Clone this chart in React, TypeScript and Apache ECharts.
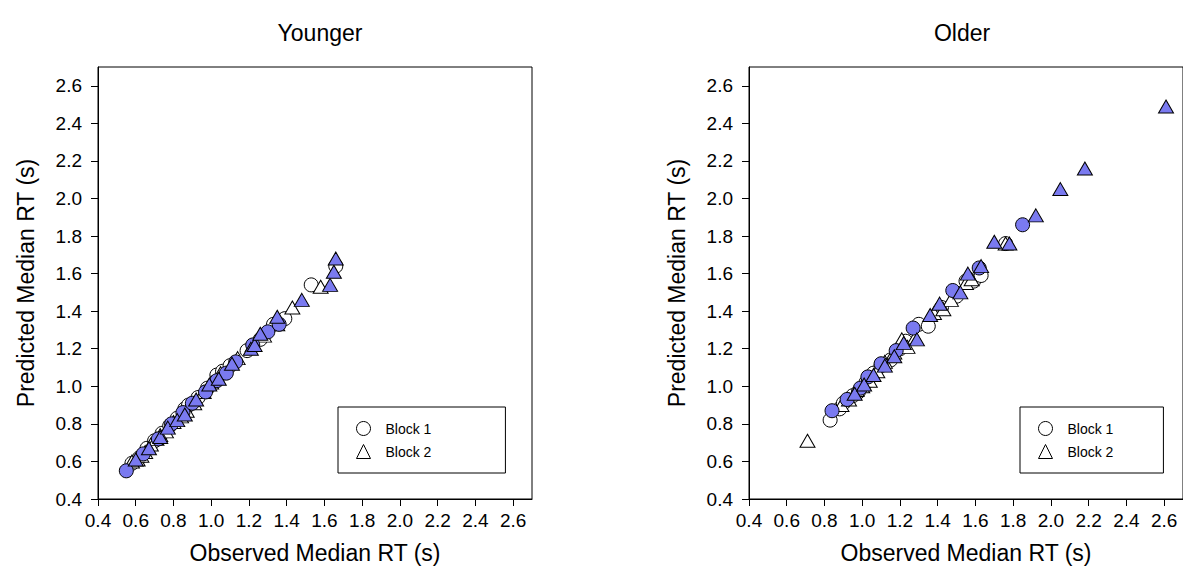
import React, { useEffect, useRef } from "react";
import * as echarts from "echarts";

// Younger group
const youngB1Open: number[][] = [
  [0.58, 0.59], [0.62, 0.62], [0.66, 0.67], [0.70, 0.71], [0.74, 0.75], [0.78, 0.79],
  [0.82, 0.83], [0.86, 0.88], [0.88, 0.90], [0.93, 0.94], [0.98, 0.99], [1.03, 1.06],
  [1.06, 1.08], [1.10, 1.11], [1.19, 1.19], [1.26, 1.25], [1.33, 1.33], [1.39, 1.36],
  [1.53, 1.54], [1.66, 1.64],
];
const youngB2Open: number[][] = [
  [0.58, 0.60], [0.61, 0.61], [0.63, 0.63], [0.65, 0.65], [0.68, 0.69], [0.71, 0.72],
  [0.73, 0.74], [0.76, 0.76], [0.80, 0.81], [0.84, 0.84], [0.87, 0.87], [0.91, 0.91],
  [0.96, 0.97], [1.00, 1.02], [1.05, 1.07], [1.14, 1.15], [1.22, 1.22], [1.28, 1.27],
  [1.35, 1.33], [1.43, 1.42], [1.58, 1.53],
];
const youngB1Fill: number[][] = [
  [0.55, 0.55], [0.64, 0.64], [0.72, 0.72], [0.79, 0.80], [0.85, 0.86], [0.90, 0.91],
  [0.97, 0.97], [1.03, 1.03], [1.08, 1.07], [1.13, 1.13], [1.22, 1.22], [1.30, 1.29],
  [1.36, 1.33],
];
const youngB2Fill: number[][] = [
  [0.60, 0.61], [0.67, 0.67], [0.73, 0.73], [0.77, 0.78], [0.82, 0.82], [0.86, 0.85],
  [0.92, 0.93], [0.99, 1.01], [1.04, 1.04], [1.11, 1.12], [1.21, 1.20], [1.23, 1.22],
  [1.26, 1.28], [1.35, 1.37], [1.48, 1.46], [1.63, 1.54], [1.65, 1.61], [1.66, 1.68],
];

// Older group
const oldB1Open: number[][] = [
  [0.83, 0.82], [0.88, 0.88], [0.90, 0.91], [0.95, 0.95], [0.98, 0.97], [1.02, 1.02],
  [1.06, 1.07], [1.10, 1.11], [1.15, 1.14], [1.20, 1.20], [1.23, 1.24], [1.30, 1.33],
  [1.35, 1.32], [1.42, 1.42], [1.50, 1.48], [1.55, 1.56], [1.59, 1.56], [1.63, 1.59],
  [1.76, 1.76],
];
const oldB2Open: number[][] = [
  [0.71, 0.71], [0.89, 0.90], [0.93, 0.93], [0.97, 0.98], [1.00, 1.00], [1.04, 1.03],
  [1.08, 1.08], [1.12, 1.13], [1.17, 1.18], [1.21, 1.25], [1.24, 1.21], [1.28, 1.26],
  [1.38, 1.39], [1.43, 1.41], [1.47, 1.46], [1.55, 1.55], [1.58, 1.57], [1.76, 1.76],
];
const oldB1Fill: number[][] = [
  [0.84, 0.87], [0.92, 0.93], [0.99, 0.99], [1.03, 1.05], [1.10, 1.12], [1.18, 1.19],
  [1.27, 1.31], [1.48, 1.51], [1.62, 1.63], [1.85, 1.86],
];
const oldB2Fill: number[][] = [
  [0.96, 0.96], [1.01, 1.01], [1.06, 1.06], [1.12, 1.11], [1.17, 1.16], [1.22, 1.23],
  [1.29, 1.25], [1.36, 1.38], [1.41, 1.44], [1.52, 1.50], [1.56, 1.60], [1.63, 1.64],
  [1.70, 1.77], [1.78, 1.76], [1.92, 1.91], [2.05, 2.05], [2.18, 2.16], [2.61, 2.49],
];

const tickValues = [0.4, 0.6, 0.8, 1.0, 1.2, 1.4, 1.6, 1.8, 2.0, 2.2, 2.4, 2.6];
const panelTitles = ["Younger", "Older"];
const legendNames = ["Block 1", "Block 2"];
const xName = "Observed Median RT (s)";
const yName = "Predicted Median RT (s)";

const FONT = "Liberation Sans, Arial, Helvetica, sans-serif";
const BLUE = "#7a7af0";

export default function App() {
  const ref = useRef<HTMLDivElement>(null);
  useEffect(() => {
    if (!ref.current) return;
    const chart = echarts.init(ref.current, null, { renderer: "svg" });

    const mkX = (gi: number) => ({
      type: "value",
      gridIndex: gi,
      min: 0.4,
      max: 2.7,
      name: xName,
      nameLocation: "middle",
      nameGap: 42,
      nameTextStyle: { fontFamily: FONT, fontSize: 23, color: "#000" },
      axisLine: { show: true, lineStyle: { color: "#000", width: 1 } },
      axisTick: { show: true, length: 7, inside: false, customValues: tickValues, lineStyle: { color: "#000" } },
      axisLabel: {
        customValues: tickValues,
        margin: 12,
        fontFamily: FONT,
        fontSize: 19,
        color: "#000",
        formatter: (v: number) => v.toFixed(1),
      },
      splitLine: { show: false },
    });
    const mkY = (gi: number) => ({
      type: "value",
      gridIndex: gi,
      min: 0.4,
      max: 2.7,
      name: yName,
      nameLocation: "middle",
      nameGap: 61,
      nameTextStyle: { fontFamily: FONT, fontSize: 23, color: "#000" },
      axisLine: { show: true, lineStyle: { color: "#000", width: 1 } },
      axisTick: { show: true, length: 7, inside: false, customValues: tickValues, lineStyle: { color: "#000" } },
      axisLabel: {
        customValues: tickValues,
        margin: 16,
        fontFamily: FONT,
        fontSize: 19,
        color: "#000",
        formatter: (v: number) => v.toFixed(1),
      },
      splitLine: { show: false },
    });

    const mkSeries = (name: string, data: number[][], gi: number, tri: boolean, filled: boolean) => ({
      type: "scatter",
      name,
      xAxisIndex: gi,
      yAxisIndex: gi,
      data,
      symbol: tri ? "triangle" : "circle",
      symbolSize: tri ? [15, 13] : 14,
      itemStyle: {
        color: filled ? BLUE : "#fff",
        borderColor: "#000",
        borderWidth: 1,
        opacity: 1,
      },
      emphasis: { disabled: true },
    });

    const mkLegend = (left: number, padRight: number) => ({
      data: [
        { name: legendNames[0], icon: "circle" },
        { name: legendNames[1], icon: "triangle" },
      ],
      orient: "vertical",
      left,
      top: 407,
      padding: [14, padRight, 14, 18],
      itemGap: 8,
      itemWidth: 14,
      itemHeight: 14,
      borderColor: "#000",
      borderWidth: 1,
      borderRadius: 0,
      selectedMode: false,
      itemStyle: { color: "#fff", borderColor: "#000", borderWidth: 1 },
      textStyle: { fontFamily: FONT, fontSize: 14, color: "#000", padding: [0, 0, 0, 10] },
    });

    chart.setOption({
      animation: false,
      backgroundColor: "#fff",
      title: [
        { text: panelTitles[0], left: 315, top: 16, textAlign: "center", textStyle: { fontFamily: FONT, fontSize: 23, fontWeight: "normal", color: "#000" } },
        { text: panelTitles[1], left: 957, top: 16, textAlign: "center", textStyle: { fontFamily: FONT, fontSize: 23, fontWeight: "normal", color: "#000" } },
      ],
      grid: [
        { left: 98, top: 67, width: 434, height: 432, show: true, borderColor: "#000", borderWidth: 1, backgroundColor: "transparent" },
        { left: 749, top: 67, width: 436, height: 432, show: true, borderColor: "#000", borderWidth: 1, backgroundColor: "transparent" },
      ],
      xAxis: [mkX(0), mkX(1)],
      yAxis: [mkY(0), mkY(1)],
      legend: [mkLegend(338, 74), mkLegend(1020, 50)],
      series: [
        mkSeries("Block 1", youngB1Open, 0, false, false),
        mkSeries("Block 2", youngB2Open, 0, true, false),
        mkSeries("Block 1 fill", youngB1Fill, 0, false, true),
        mkSeries("Block 2 fill", youngB2Fill, 0, true, true),
        mkSeries("Block 1", oldB1Open, 1, false, false),
        mkSeries("Block 2", oldB2Open, 1, true, false),
        mkSeries("Block 1 fill", oldB1Fill, 1, false, true),
        mkSeries("Block 2 fill", oldB2Fill, 1, true, true),
      ],
    });
    return () => chart.dispose();
  }, []);
  return (
    <div
      ref={ref}
      style={{ position: "fixed", left: 0, top: 0, width: 1183, height: 584, background: "#fff" }}
    />
  );
}
